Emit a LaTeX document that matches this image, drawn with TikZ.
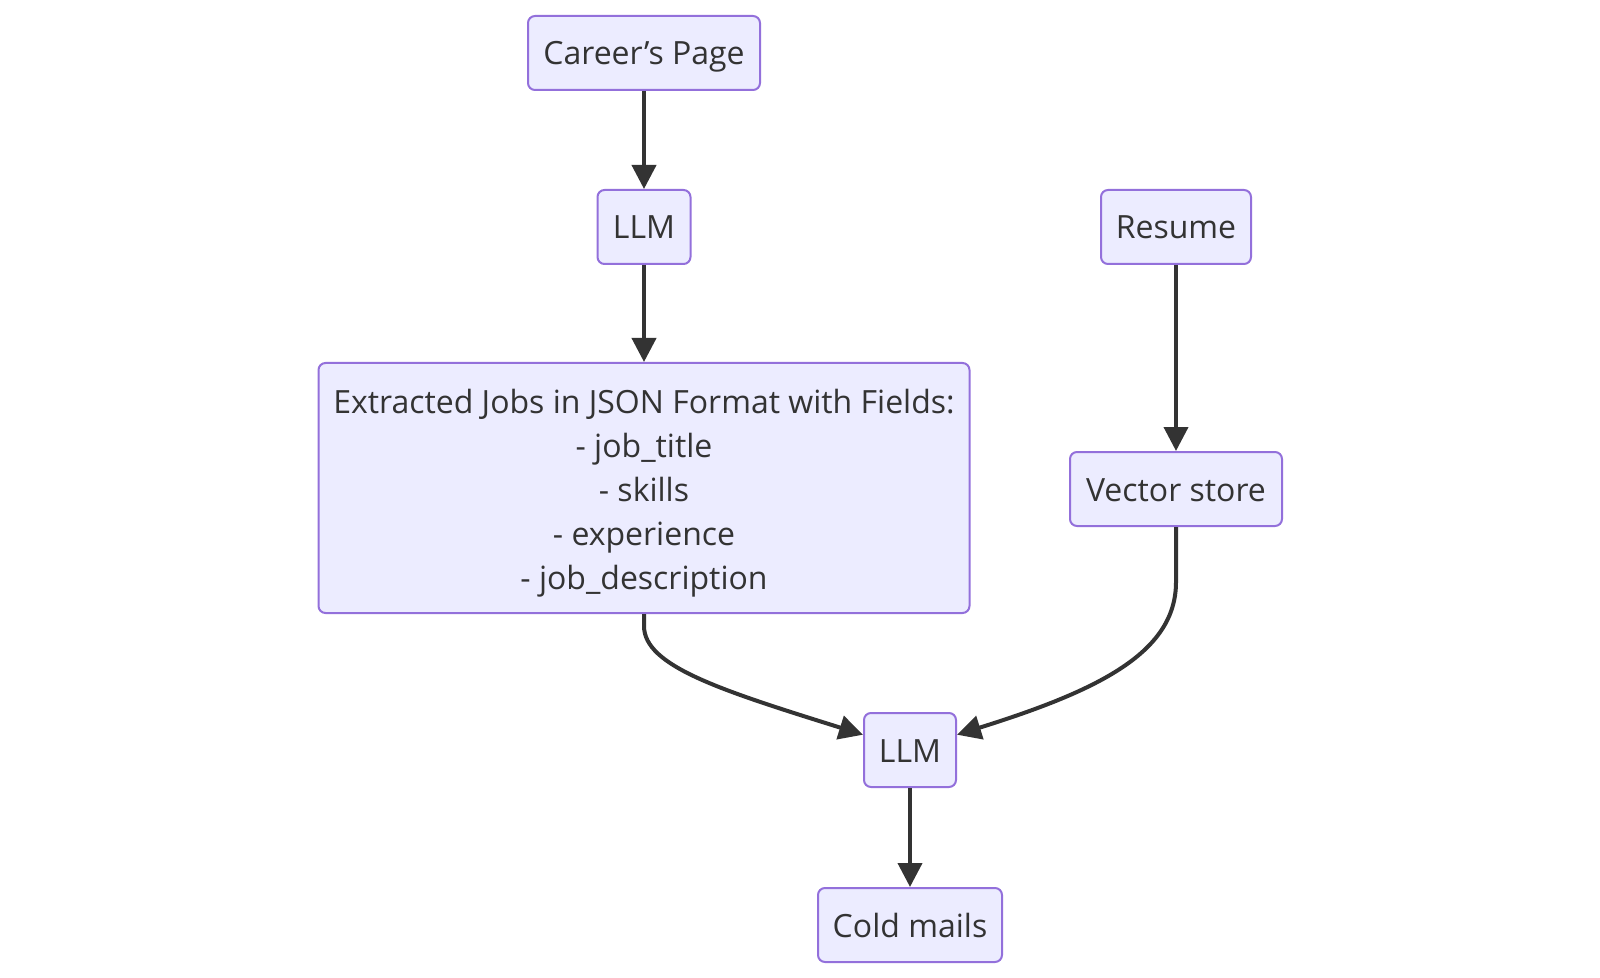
\documentclass[tikz,border=0pt]{standalone}
\usepackage{fontspec}
\setmainfont{Open Sans}
\usetikzlibrary{arrows.meta}
\definecolor{nodefill}{HTML}{ECECFF}
\definecolor{nodeline}{HTML}{9370DB}
\definecolor{edge}{HTML}{333333}
\tikzset{
  box/.style={draw=nodeline, fill=nodefill, line width=1pt, rounded corners=3.5pt,
    inner sep=0pt, text=edge, font=\fontsize{16}{22}\selectfont, align=center,
    minimum height=37pt, text height=16pt, text depth=4pt},
  conn/.style={draw=edge, line width=2pt, -{Triangle[length=12pt,width=12pt]}},
}
\begin{document}
\begin{tikzpicture}[x=0.5pt,y=-0.5pt]
\useasboundingbox (0,0) rectangle (1600,978);
\node[box, minimum width=116pt] (career) at (644,53) {Career’s Page};
\node[box, minimum width=46.5pt] (llm1) at (644,227) {LLM};
\node[box, minimum width=75pt] (resume) at (1176,227) {Resume};
\node[box, minimum width=325.5pt, minimum height=125pt, text height=105.3pt, text depth=4pt] (ext) at (644,488)
  {Extracted Jobs in JSON Format with Fields:\\- job\_title\\- skills\\- experience\\- job\_description};
\node[box, minimum width=106pt] (vec) at (1176,489) {Vector store};
\node[box, minimum width=46pt] (llm2) at (910,750) {LLM};
\node[box, minimum width=92pt] (cold) at (910,925) {Cold mails};
\draw[conn] (career) -- (llm1);
\draw[conn] (llm1) -- (ext);
\draw[conn] (resume) -- (vec);
\draw[conn] (llm2) -- (cold);
\draw[conn] (ext.south) -- ++(0,12) .. controls ++(0,40) and (720,690) .. (llm2.162);
\draw[conn] (vec.south) -- ++(0,55) .. controls ++(0,70) and (1100,690) .. (llm2.18);
\end{tikzpicture}
\end{document}
